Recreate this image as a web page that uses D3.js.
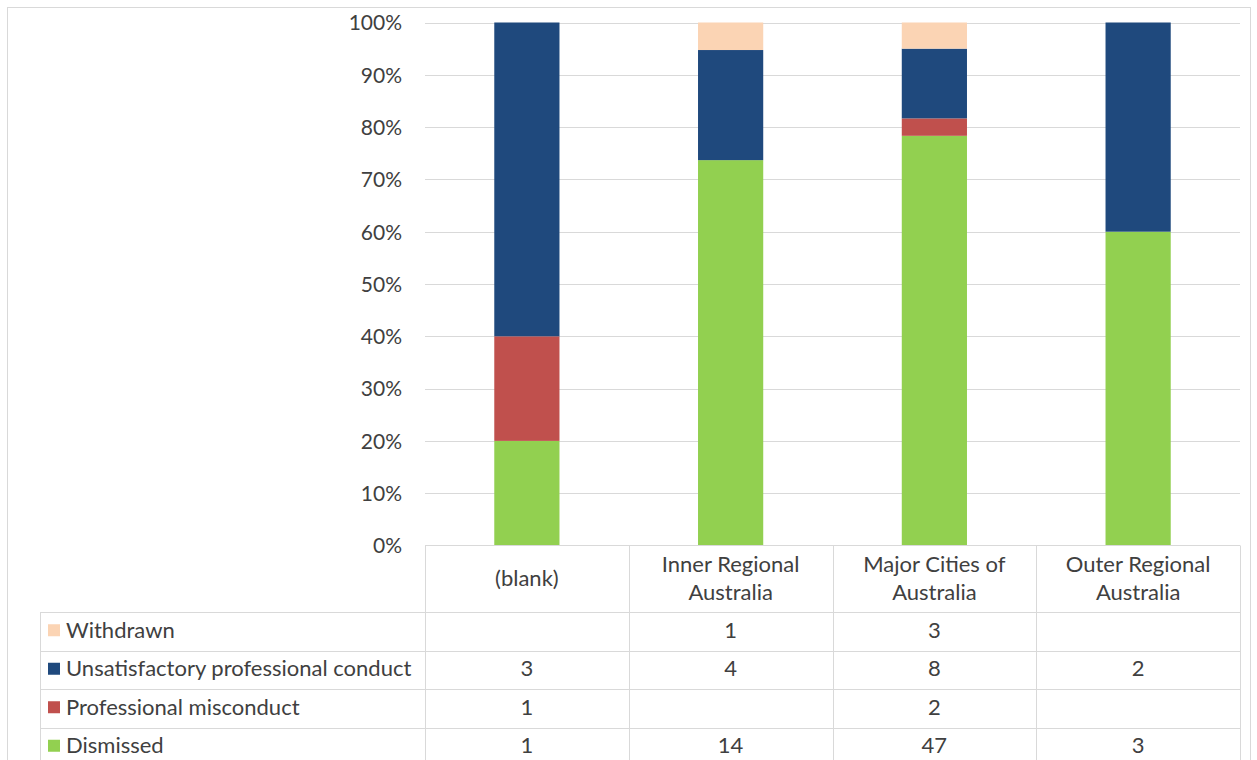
<!DOCTYPE html>
<html>
<head>
<meta charset="utf-8">
<script src="https://cdn.jsdelivr.net/npm/d3@7"></script>
<style>
  html, body { margin: 0; padding: 0; background: #ffffff; }
  svg { display: block; }
  text { font-family: Lato, "Open Sans", sans-serif; fill: #404040; }
</style>
</head>
<body>
<svg id="chart" width="1257" height="760"></svg>
<script>
// Outcome counts by remoteness area
const categories = ["(blank)", "Inner Regional Australia", "Major Cities of Australia", "Outer Regional Australia"];
const categoryLines = [["(blank)"], ["Inner Regional", "Australia"], ["Major Cities of", "Australia"], ["Outer Regional", "Australia"]];
const dismissed = [1, 14, 47, 3];
const professionalMisconduct = [1, null, 2, null];
const unsatisfactoryConduct = [3, 4, 8, 2];
const withdrawn = [null, 1, 3, null];
const yTicks = [0, 0.1, 0.2, 0.3, 0.4, 0.5, 0.6, 0.7, 0.8, 0.9, 1.0];

// Series listed bottom-to-top of the stack
const series = [
  { name: "Dismissed", values: dismissed, color: "#92D050" },
  { name: "Professional misconduct", values: professionalMisconduct, color: "#C0504D" },
  { name: "Unsatisfactory professional conduct", values: unsatisfactoryConduct, color: "#1F497D" },
  { name: "Withdrawn", values: withdrawn, color: "#FBD4B4" }
];

const svg = d3.select("#chart");
const W = 1257, H = 760;
const FONT = 22;

// Chart frame
svg.append("rect").attr("x", 7.5).attr("y", 7.5).attr("width", 1243).attr("height", 760)
  .attr("fill", "none").attr("stroke", "#d9d9d9");

const plotLeft = 425, plotRight = 1240, plotTop = 22.5, plotBottom = 545.5;

const x = d3.scaleBand().domain(categories).range([plotLeft, plotRight])
  .paddingInner(0.68).paddingOuter(0.34);
const y = d3.scaleLinear().domain([0, 1]).range([plotBottom, plotTop]);

// Gridlines
svg.append("g").selectAll("line").data(yTicks.filter(t => t > 0)).join("line")
  .attr("x1", plotLeft).attr("x2", plotRight)
  .attr("y1", d => Math.round(y(d)) + 0.5).attr("y2", d => Math.round(y(d)) + 0.5)
  .attr("stroke", "#d9d9d9").attr("stroke-width", 1);

// Y axis labels
const yAxis = d3.axisLeft(y).tickValues(yTicks).tickFormat(d3.format(".0%")).tickSize(0).tickPadding(0);
const gy = svg.append("g").attr("transform", `translate(402,0)`).call(yAxis);
gy.select(".domain").remove();
gy.selectAll("text").attr("font-size", 21).attr("font-family", "Lato, sans-serif").attr("fill", "#404040")
  .attr("dy", "0.35em");

// Stacked 100% columns
const rows = categories.map((c, i) => {
  const r = { category: c };
  series.forEach(s => { r[s.name] = s.values[i] || 0; });
  return r;
});
const stacked = d3.stack().keys(series.map(s => s.name)).offset(d3.stackOffsetExpand)(rows);

svg.append("g").selectAll("g").data(stacked).join("g")
  .attr("fill", (d, i) => series[i].color)
  .selectAll("rect").data(d => d).join("rect")
  .attr("x", d => x(d.data.category))
  .attr("width", x.bandwidth())
  .attr("y", d => y(d[1]))
  .attr("height", d => y(d[0]) - y(d[1]));

// Data table
const step = x.step();
const colEdges = categories.map((c, i) => plotLeft + i * step).concat([plotRight]);
const headerBottom = 612;
const rowEdges = [612, 650.5, 689, 727.5, 766];
const tableLeft = 40;
const grid = svg.append("g").attr("stroke", "#d9d9d9").attr("stroke-width", 1);

grid.append("line").attr("x1", plotLeft).attr("x2", plotRight).attr("y1", plotBottom).attr("y2", plotBottom);
rowEdges.forEach(ry => {
  grid.append("line").attr("x1", tableLeft).attr("x2", plotRight)
    .attr("y1", Math.round(ry) + 0.5).attr("y2", Math.round(ry) + 0.5);
});
colEdges.forEach(cx => {
  grid.append("line").attr("x1", Math.round(cx) + 0.5).attr("x2", Math.round(cx) + 0.5)
    .attr("y1", plotBottom).attr("y2", H);
});
grid.append("line").attr("x1", tableLeft + 0.5).attr("x2", tableLeft + 0.5).attr("y1", headerBottom).attr("y2", H);

// Category headers
categories.forEach((c, i) => {
  const cx = x(c) + x.bandwidth() / 2;
  const lines = categoryLines[i];
  const t = svg.append("text").attr("text-anchor", "middle").attr("font-size", FONT);
  const centerY = (plotBottom + headerBottom) / 2;
  lines.forEach((ln, j) => {
    t.append("tspan").attr("x", cx)
      .attr("y", centerY + (j - (lines.length - 1) / 2) * 28)
      .attr("dy", "0.35em").text(ln);
  });
});

// Table body: rows ordered top-down as the reverse of the stack
const tableSeries = series.slice().reverse();
tableSeries.forEach((s, r) => {
  const cy = (rowEdges[r] + rowEdges[r + 1]) / 2 - 1;
  svg.append("rect").attr("x", 48).attr("y", cy - 6).attr("width", 12).attr("height", 12).attr("fill", s.color);
  svg.append("text").attr("x", 66).attr("y", cy).attr("dy", "0.35em").attr("font-size", FONT).text(s.name);
  categories.forEach((c, i) => {
    const v = s.values[i];
    if (v == null) return;
    svg.append("text").attr("x", x(c) + x.bandwidth() / 2).attr("y", cy).attr("dy", "0.35em")
      .attr("text-anchor", "middle").attr("font-size", FONT).text(v);
  });
});
</script>
</body>
</html>
